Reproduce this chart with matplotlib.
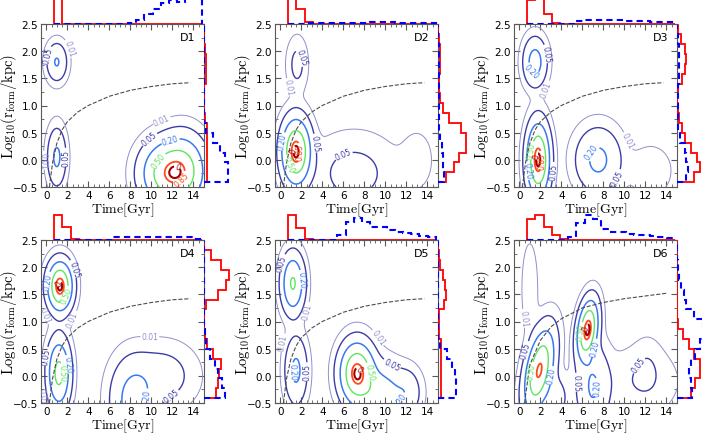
import numpy as np
import matplotlib
matplotlib.use('Agg')
import matplotlib.pyplot as plt
from matplotlib.ticker import MultipleLocator

plt.rcParams['mathtext.fontset'] = 'cm'
plt.rcParams['font.family'] = 'DejaVu Sans'

# density blobs: (t, logr, sigma_t, sigma_r, weight, corr)
D1_blobs = [(11.3, -0.25, 1.3, 0.32, 0.8, 0.0), (13.0, -0.2, 1.2, 0.35, 0.8, 0.0),
            (1.0, 1.8, 0.55, 0.2, 0.27, 0.0), (1.0, 0.05, 0.5, 0.3, 0.3, 0.0)]
D2_blobs = [(1.5, 0.15, 0.75, 0.33, 1.0, 0.0), (1.6, 1.75, 0.55, 0.28, 0.075, 0.0),
            (7.0, -0.25, 2.3, 0.4, 0.08, 0.0), (13.0, 0.0, 1.0, 0.35, 0.025, 0.0)]
D3_blobs = [(1.8, 0.0, 0.6, 0.37, 1.0, 0.0), (1.5, 1.8, 0.62, 0.25, 0.3, 0.0),
            (7.5, 0.0, 1.2, 0.33, 0.25, 0.0), (12.5, -0.2, 1.3, 0.3, 0.03, 0.0)]
D4_blobs = [(1.3, 1.65, 0.65, 0.25, 1.0, 0.0), (1.2, 0.05, 0.6, 0.35, 0.6, 0.0),
            (8.3, -0.45, 1.2, 0.42, 0.3, 0.0), (11.0, 0.0, 1.8, 0.33, 0.1, 0.0)]
D5_blobs = [(7.3, 0.05, 0.9, 0.31, 1.0, 0.0), (9.5, -0.4, 1.2, 0.33, 0.4, 0.0),
            (12.0, -0.3, 0.8, 0.25, 0.15, 0.0), (1.2, 1.7, 0.6, 0.3, 0.55, 0.0),
            (1.5, 0.1, 0.6, 0.35, 0.25, 0.0)]
D6_blobs = [(1.9, 0.1, 0.8, 0.42, 0.9, 0.45), (3.5, -0.4, 0.7, 0.25, 0.1, 0.0),
            (6.5, 0.85, 0.55, 0.3, 1.0, 0.3), (7.0, -0.2, 0.9, 0.45, 0.22, 0.0),
            (11.5, -0.1, 2.0, 0.35, 0.05, 0.0), (12.2, 0.2, 0.8, 0.3, 0.03, 0.0),
            (1.0, 1.6, 0.45, 0.5, 0.04, 0.0)]

# marginal histograms (top: formation time, side: log r)
top_edges = np.linspace(0.75, 14.79, 19)
side_edges = np.linspace(-0.41, 2.49, 17)

D1_top_red = [1.3, 0, 0, 0, 0, 0, 0, 0, 0, 0, 0, 0, 0, 0, 0, 0, 0, 0]
D1_top_blue = [0, 0, 0, 0, 0, 0, 0, 0, 0, 0.05, 0.15, 0.35, 0.55, 0.75, 0.85, 0.8, 1.0, 1.2]
D1_side_red = [0.1, 0.1, 0.1, 0.1, 0.1, 0.1, 0.03, 0, 0, 0, 0.08, 0.08, 0.08, 0.03, 0, 0]
D1_side_blue = [0.8, 0.8, 0.7, 0.53, 0.3, 0.05, 0, 0, 0, 0, 0, 0, 0, 0, 0, 0]

D2_top_red = [1.1, 0.55, 0.07, 0, 0, 0, 0, 0, 0, 0, 0, 0, 0, 0, 0, 0, 0, 0]
D2_top_blue = [0, 0, 0.04, 0.04, 0.05, 0.05, 0.05, 0.05, 0.05, 0.05, 0.06, 0.08, 0.08, 0.05, 0.05, 0.05, 0.04, 0.04]
D2_side_red = [0.27, 0.53, 0.7, 0.93, 0.93, 0.75, 0.35, 0.15, 0.05, 0.03, 0.03, 0.05, 0.07, 0.07, 0.02, 0]
D2_side_blue = [0.2, 0.15, 0.15, 0.12, 0.07, 0.03, 0.02, 0.02, 0.02, 0.02, 0.02, 0.02, 0.02, 0.02, 0.01, 0]

D3_top_red = [0.85, 0.95, 0.35, 0.05, 0, 0, 0, 0, 0, 0, 0, 0, 0, 0, 0, 0, 0, 0]
D3_top_blue = [0, 0, 0, 0, 0, 0, 0.1, 0.15, 0.15, 0.15, 0.15, 0.15, 0.1, 0.1, 0.12, 0.06, 0.06, 0.06]
D3_side_red = [0.55, 0.75, 0.65, 0.45, 0.25, 0.15, 0.05, 0.02, 0.01, 0.03, 0.15, 0.25, 0.3, 0.25, 0.12, 0.02]
D3_side_blue = [0.3, 0.35, 0.3, 0.25, 0.1, 0.03, 0.02, 0.02, 0.02, 0.02, 0.05, 0.05, 0.05, 0.05, 0.02, 0]

D4_top_red = [0.9, 0.45, 0.05, 0, 0, 0, 0, 0, 0, 0, 0, 0, 0, 0, 0, 0, 0, 0]
D4_top_blue = [0, 0, 0, 0, 0, 0, 0, 0.1, 0.1, 0.1, 0.1, 0.1, 0.1, 0.1, 0.1, 0.1, 0.1, 0.05]
D4_side_red = [0.4, 0.45, 0.5, 0.55, 0.3, 0.1, 0.03, 0, 0, 0.05, 0.45, 0.73, 0.83, 0.57, 0.23, 0]
D4_side_blue = [0.7, 0.6, 0.45, 0.35, 0.2, 0.08, 0.03, 0.01, 0.01, 0.01, 0.01, 0.01, 0.01, 0.01, 0, 0]

D5_top_red = [0.9, 0.43, 0.02, 0, 0, 0, 0, 0, 0, 0, 0, 0, 0, 0, 0, 0, 0, 0]
D5_top_blue = [0, 0, 0, 0, 0, 0, 0.18, 0.65, 0.8, 0.65, 0.46, 0.46, 0.36, 0.3, 0.25, 0.2, 0.14, 0.1]
D5_side_red = [0.1, 0.1, 0.1, 0.1, 0.1, 0.1, 0.03, 0.03, 0.03, 0.2, 0.25, 0.22, 0.18, 0.08, 0.02, 0]
D5_side_blue = [0.6, 0.6, 0.55, 0.45, 0.3, 0.05, 0, 0, 0, 0, 0, 0, 0, 0, 0, 0]

D6_top_red = [0.75, 0.9, 0.45, 0.18, 0.05, 0, 0, 0, 0, 0, 0, 0, 0, 0, 0, 0, 0, 0]
D6_top_blue = [0, 0, 0, 0, 0, 0.1, 0.6, 0.9, 0.75, 0.4, 0.3, 0.28, 0.2, 0.18, 0.17, 0.15, 0.1, 0.08]
D6_side_red = [0.45, 0.6, 0.78, 0.78, 0.55, 0.4, 0.2, 0.02, 0, 0, 0, 0, 0, 0, 0, 0]
D6_side_blue = [0.5, 0.45, 0.4, 0.45, 0.6, 0.75, 0.95, 0.85, 0.55, 0.3, 0.22, 0.12, 0.05, 0.02, 0, 0]

# dashed reference curve
curve_t = [0.3, 0.6, 1.0, 1.5, 2.0, 3.0, 4.0, 6.0, 8.0, 10.0, 12.0, 13.7]
curve_r = [-0.5, -0.05, 0.3, 0.55, 0.7, 0.88, 1.0, 1.17, 1.28, 1.35, 1.4, 1.42]
D6_curve_t = [0.5, 1.0, 2.0, 3.0, 4.0, 6.0, 8.0, 10.0, 12.0, 14.0]
D6_curve_r = [-0.5, 0.2, 0.65, 0.9, 1.05, 1.25, 1.35, 1.42, 1.47, 1.52]

names = ['D1', 'D2', 'D3', 'D4', 'D5', 'D6']
blobs = [D1_blobs, D2_blobs, D3_blobs, D4_blobs, D5_blobs, D6_blobs]
top_red = [D1_top_red, D2_top_red, D3_top_red, D4_top_red, D5_top_red, D6_top_red]
top_blue = [D1_top_blue, D2_top_blue, D3_top_blue, D4_top_blue, D5_top_blue, D6_top_blue]
side_red = [D1_side_red, D2_side_red, D3_side_red, D4_side_red, D5_side_red, D6_side_red]
side_blue = [D1_side_blue, D2_side_blue, D3_side_blue, D4_side_blue, D5_side_blue, D6_side_blue]

levels = [0.01, 0.05, 0.20, 0.50, 0.85, 0.95]
lev_colors = ['#9090cc', '#3c3ca8', '#3a78f0', '#5ee65e', '#ff4a1a', '#a00000']
lev_widths = [0.7, 1.0, 1.1, 1.0, 1.3, 1.5]
lev_fmt = {0.01: '0.01', 0.05: '0.05', 0.20: '0.20', 0.50: '0.50', 0.85: '0.85', 0.95: '0'}


def density(bl, tt, rr):
    z = np.zeros_like(tt)
    for t0, r0, st, sr, w, rho in bl:
        a = (tt - t0) / st
        b = (rr - r0) / sr
        q = (a * a - 2 * rho * a * b + b * b) / (1 - rho * rho)
        z += w * np.exp(-0.5 * q)
    return z / z.max()


W, H = 702, 435
fig = plt.figure(figsize=(W / 100, H / 100), dpi=100)

lefts = [41, 275, 514]
tops = [25, 241]
aw, ah = 163, 163
top_h, side_w = 28, 30

tg = np.linspace(-0.5, 15, 320)
rg = np.linspace(-0.5, 2.5, 220)
tt, rr = np.meshgrid(tg, rg)

for i in range(6):
    row, col = i // 3, i % 3
    x0 = lefts[col]
    y0 = tops[row]
    ax = fig.add_axes([x0 / W, (H - y0 - ah) / H, aw / W, ah / H])
    z = density(blobs[i], tt, rr)
    cs = ax.contour(tt, rr, z, levels=levels, colors=lev_colors, linewidths=lev_widths)
    ax.clabel(cs, fmt=lev_fmt, fontsize=5.5, inline=True, inline_spacing=1)
    if i == 5:
        ax.plot(D6_curve_t, D6_curve_r, '--', color='0.3', lw=0.8)
    else:
        ax.plot(curve_t, curve_r, '--', color='0.3', lw=0.8)
    ax.set_xlim(-0.5, 15)
    ax.set_ylim(-0.5, 2.5)
    ax.xaxis.set_major_locator(MultipleLocator(2))
    ax.xaxis.set_minor_locator(MultipleLocator(0.5))
    ax.yaxis.set_major_locator(MultipleLocator(0.5))
    ax.yaxis.set_minor_locator(MultipleLocator(0.25))
    ax.tick_params(which='both', direction='in', top=True, right=True, labelsize=7.5, pad=2,
                   color='0.35')
    ax.tick_params(which='major', length=4)
    ax.tick_params(which='minor', length=2)
    for s in ax.spines.values():
        s.set_color('0.35')
    ax.set_xlabel(r'$\mathrm{Time[Gyr]}$', fontsize=10, labelpad=0.5)
    ax.set_ylabel(r'$\mathrm{Log_{10}(r_{form}/kpc)}$', fontsize=10.5, labelpad=-4)
    ax.text(0.95, 0.95, names[i], transform=ax.transAxes, ha='right', va='top', fontsize=8)

    # top marginal
    axt = fig.add_axes([x0 / W, (H - y0) / H, aw / W, top_h / H])
    axt.stairs(top_red[i], top_edges, baseline=0, color='red', lw=1.3)
    axt.stairs(top_blue[i], top_edges, baseline=0, color='blue', lw=1.5, linestyle=(0, (3, 2)))
    axt.set_xlim(-0.5, 15)
    axt.set_ylim(0, 1)
    axt.axis('off')

    # side marginal
    axs = fig.add_axes([(x0 + aw) / W, (H - y0 - ah) / H, side_w / W, ah / H])
    axs.stairs(side_red[i], side_edges, baseline=0, orientation='horizontal', color='red', lw=1.3)
    axs.stairs(side_blue[i], side_edges, baseline=0, orientation='horizontal', color='blue', lw=1.5,
               linestyle=(0, (3, 2)))
    axs.set_ylim(-0.5, 2.5)
    axs.set_xlim(0, 1)
    axs.axis('off')

fig.savefig('out.png', dpi=100)
